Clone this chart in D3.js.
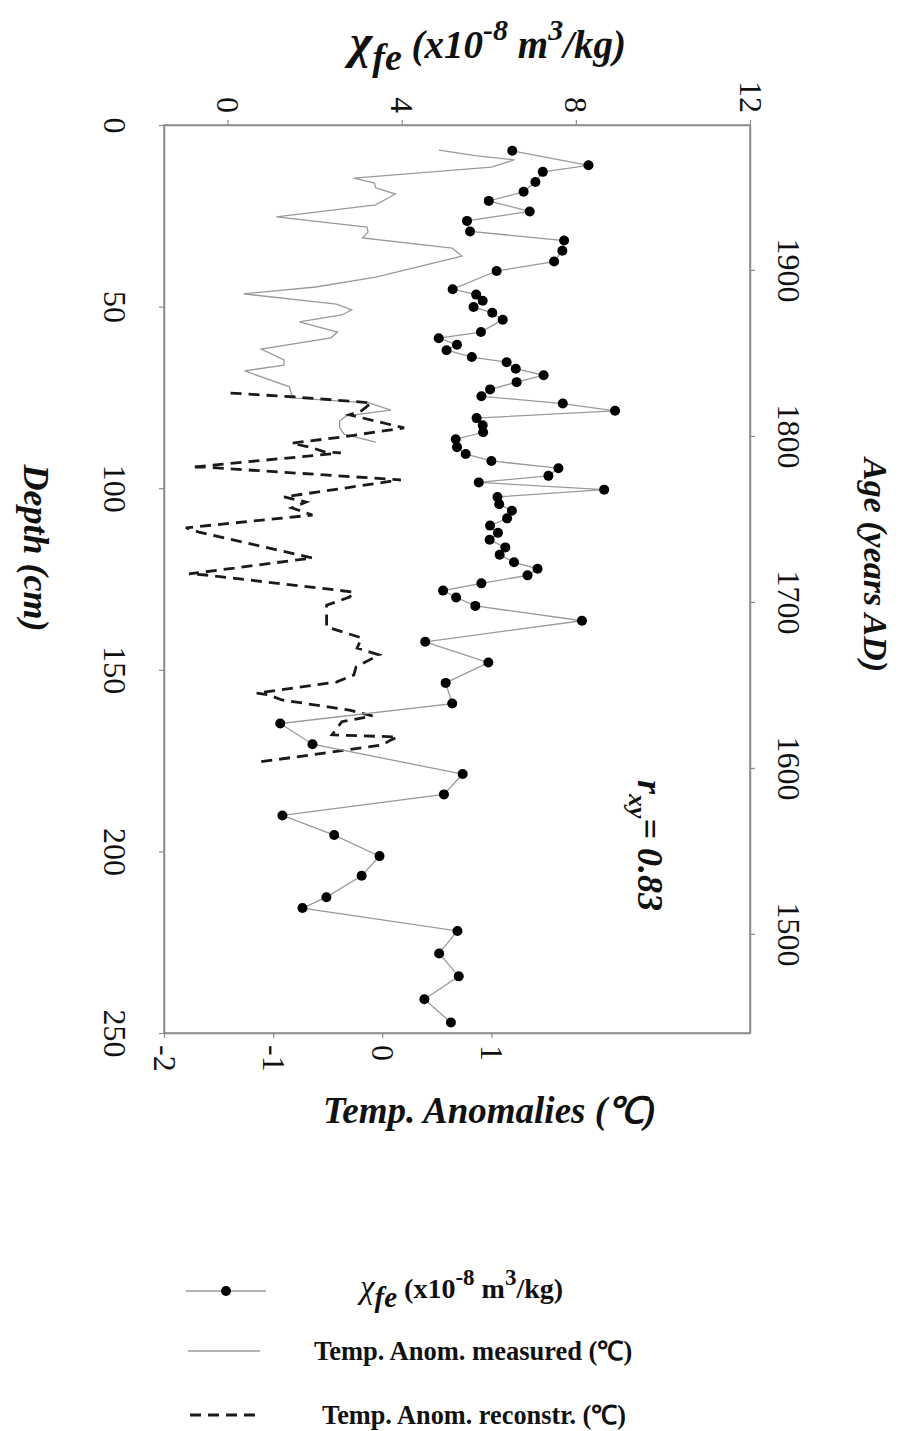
<!DOCTYPE html>
<html>
<head>
<meta charset="utf-8">
<script src="https://cdn.jsdelivr.net/npm/d3@7"></script>
<style>
  html, body { margin: 0; padding: 0; background: #fff; }
  svg { display: block; }
  text { font-family: "Liberation Serif", "Times New Roman", serif; fill: #111; }
</style>
</head>
<body>
<svg id="chart" width="902" height="1431"></svg>
<script>
// ---------------- DATA ----------------
// chi_fe series (x10^-8 m3/kg) vs depth (cm)
const chiDepth = [7.1, 11.1, 12.9, 15.7, 18.4, 20.9, 23.8, 26.4, 29.3, 31.8,
  34.6, 37.6, 40.2, 45.2, 46.7, 48.4, 50.1, 51.7, 53.6, 57.0,
  58.7, 60.5, 62.0, 63.9, 65.3, 67.1, 68.9, 70.8, 72.8, 74.7,
  76.7, 78.7, 80.7, 82.7, 84.6, 86.5, 88.7, 90.6, 92.5, 94.5,
  96.6, 98.4, 100.4, 102.4, 104.4, 106.2, 108.3, 110.3, 112.3, 114.2,
  116.3, 118.3, 120.4, 122.2, 124.0, 126.2, 128.2, 130.1, 132.4, 136.5,
  142.3, 148.0, 153.6, 159.3, 164.8, 170.5, 178.7, 184.3, 190.1, 195.5,
  201.3, 206.7, 212.6, 215.6, 221.9, 228.1, 234.4, 240.7, 247.1];
const chiValues = [6.54, 8.29, 7.24, 7.07, 6.80, 6.00, 6.94, 5.50, 5.57, 7.73,
  7.69, 7.50, 6.18, 5.17, 5.71, 5.86, 5.65, 6.08, 6.32, 5.82,
  4.85, 5.27, 5.03, 5.61, 6.41, 6.62, 7.26, 6.64, 6.03, 5.83,
  7.70, 8.90, 5.72, 5.86, 5.87, 5.24, 5.27, 5.47, 6.06, 7.60,
  7.37, 5.77, 8.65, 6.20, 6.24, 6.53, 6.42, 6.03, 6.21, 6.02,
  6.38, 6.25, 6.58, 7.12, 6.89, 5.83, 4.95, 5.25, 5.69, 8.14,
  4.54, 5.99, 5.01, 5.16, 1.21, 1.95, 5.40, 4.97, 1.26, 2.45,
  3.49, 3.08, 2.27, 1.72, 5.28, 4.86, 5.31, 4.52, 5.13];

// Measured temperature anomalies (deg C), positioned on the depth axis
const measDepth = [6.9, 8.5, 9.6, 11.6, 14.6, 16.0, 17.3, 19.0, 22.0, 25.3,
  28.1, 29.5, 31.1, 33.9, 36.1, 41.9, 44.6, 46.5, 49.3, 50.9,
  52.3, 54.2, 57.0, 58.6, 61.7, 64.7, 66.1, 67.7, 72.1, 74.3,
  75.2, 76.5, 78.5, 80.1, 81.5, 83.4, 85.1, 87.3];
const measTemp = [0.52, 0.87, 1.21, 1.00, -0.26, -0.07, -0.06, 0.12, -0.06, -0.97,
  -0.14, -0.13, -0.18, 0.64, 0.73, -0.06, -0.61, -1.27, -0.42, -0.28,
  -0.37, -0.76, -0.41, -0.47, -1.11, -0.90, -0.90, -1.26, -0.85, -0.83,
  -0.79, -0.12, 0.08, -0.33, -0.39, -0.39, -0.35, -0.06];

// Reconstructed temperature anomalies (deg C), positioned on the depth axis
const recDepth = [73.8, 74.9, 76.5, 78.7, 79.8, 83.4, 85.9, 87.6, 88.9, 90.0,
  90.3, 94.2, 94.2, 97.7, 102.4, 103.8, 105.4, 107.4, 110.9, 112.1,
  119.2, 123.6, 123.9, 128.6, 130.0, 132.2, 138.2, 141.2, 144.0, 145.9,
  149.2, 151.4, 153.4, 156.4, 156.9, 158.3, 161.1, 162.7, 164.3, 167.9,
  168.5, 169.3, 170.7, 175.4];
const recTemp = [-1.39, -0.79, -0.10, -0.19, -0.30, 0.20, -0.37, -0.83, -0.64, -0.53,
  -0.38, -1.75, -1.63, 0.17, -0.90, -0.70, -0.83, -0.64, -1.80, -1.68,
  -0.64, -1.77, -1.62, -0.26, -0.30, -0.51, -0.51, -0.19, -0.23, -0.03,
  -0.24, -0.26, -0.42, -1.15, -1.04, -0.92, -0.30, -0.09, -0.37, -0.46,
  0.14, 0.08, 0.00, -1.13];

// Tick values
const depthTicks = [0, 50, 100, 150, 200, 250];
const chiTicks = [0, 4, 8, 12];
const tempTicks = [-2, -1, 0, 1];
const ageTicks = [1900, 1800, 1700, 1600, 1500];

// ---------------- LAYOUT ----------------
const plot = { left: 164, right: 750, top: 125, bottom: 1033 };
const svg = d3.select("#chart");
svg.append("rect").attr("width", 902).attr("height", 1431).attr("fill", "#fff");

const yDepth = d3.scaleLinear().domain([0, 250]).range([plot.top, plot.bottom]);
const yAge = d3.scaleLinear().domain([1987.3, 1440.3]).range([plot.top, plot.bottom]);
const xChi = d3.scaleLinear().domain([-1.46, 12]).range([plot.left, plot.right]);
const xTemp = d3.scaleLinear().domain([-2, 3.37]).range([plot.left, plot.right]);

const axisColor = "#8c8c8c";
const tickFont = 32;
const plainFmt = d => String(d);

// frame
svg.append("rect")
  .attr("x", plot.left).attr("y", plot.top)
  .attr("width", plot.right - plot.left).attr("height", plot.bottom - plot.top)
  .attr("fill", "none").attr("stroke", axisColor).attr("stroke-width", 1.5);

function styleAxis(g) {
  g.attr("font-family", null).attr("font-size", null);
  g.select(".domain").attr("stroke", axisColor).attr("stroke-width", 1.5);
  g.selectAll(".tick line").attr("stroke", axisColor).attr("stroke-width", 1.2);
  g.selectAll(".tick text")
    .style("font-family", "'Liberation Serif', 'Times New Roman', serif")
    .style("font-size", tickFont + "px").style("fill", "#111");
}

// left axis: depth
const gL = svg.append("g").attr("transform", `translate(${plot.left},0)`)
  .call(d3.axisLeft(yDepth).tickValues(depthTicks).tickFormat(plainFmt).tickSize(5).tickSizeOuter(0));
styleAxis(gL);
gL.selectAll(".tick text")
  .attr("x", null).attr("dy", null)
  .attr("text-anchor", "middle")
  .attr("transform", "translate(-60,0) rotate(90)");

// right axis: age
const gR = svg.append("g").attr("transform", `translate(${plot.right},0)`)
  .call(d3.axisRight(yAge).tickValues(ageTicks).tickFormat(plainFmt).tickSize(5).tickSizeOuter(0));
styleAxis(gR);
gR.selectAll(".tick text")
  .attr("x", null).attr("dy", null)
  .attr("text-anchor", "middle")
  .attr("transform", "translate(28,0) rotate(90)");

// top axis: chi
const gT = svg.append("g").attr("transform", `translate(0,${plot.top})`)
  .call(d3.axisTop(xChi).tickValues(chiTicks).tickFormat(plainFmt).tickSize(5).tickSizeOuter(0));
styleAxis(gT);
gT.selectAll(".tick text")
  .attr("y", null).attr("dy", null)
  .attr("text-anchor", "end")
  .attr("transform", "translate(-11,-12) rotate(90)");

// bottom axis: temperature
const gB = svg.append("g").attr("transform", `translate(0,${plot.bottom})`)
  .call(d3.axisBottom(xTemp).tickValues(tempTicks).tickFormat(plainFmt).tickSize(5).tickSizeOuter(0));
styleAxis(gB);
gB.selectAll(".tick text")
  .attr("y", null).attr("dy", null)
  .attr("text-anchor", "start")
  .attr("transform", "translate(-11,12) rotate(90)");

// ---------------- SERIES ----------------
const measured = measDepth.map((d, i) => ({ d, v: measTemp[i] }));
const recon = recDepth.map((d, i) => ({ d, v: recTemp[i] }));
const chi = chiDepth.map((d, i) => ({ d, v: chiValues[i] }));

svg.append("path").datum(measured)
  .attr("fill", "none").attr("stroke", "#9a9a9a").attr("stroke-width", 1.3)
  .attr("d", d3.line().x(p => xTemp(p.v)).y(p => yDepth(p.d)));

svg.append("path").datum(recon)
  .attr("fill", "none").attr("stroke", "#1a1a1a").attr("stroke-width", 2.8)
  .attr("stroke-dasharray", "11,7")
  .attr("d", d3.line().x(p => xTemp(p.v)).y(p => yDepth(p.d)));

svg.append("path").datum(chi)
  .attr("fill", "none").attr("stroke", "#9a9a9a").attr("stroke-width", 1.3)
  .attr("d", d3.line().x(p => xChi(p.v)).y(p => yDepth(p.d)));

svg.append("g").selectAll("circle").data(chi).join("circle")
  .attr("cx", p => xChi(p.v)).attr("cy", p => yDepth(p.d))
  .attr("r", 5).attr("fill", "#000");

// ---------------- TITLES ----------------
// top title
const tt = svg.append("text").attr("x", 350).attr("y", 58)
  .attr("font-weight", "bold").attr("font-style", "italic").attr("font-size", 39);
tt.append("tspan").attr("font-size", 48).text("χ");
tt.append("tspan").attr("font-size", 38).attr("dy", 12).text("fe");
tt.append("tspan").attr("font-size", 39).attr("dy", -12).text(" (x10");
tt.append("tspan").attr("font-size", 30).attr("dy", -18).text("-8");
tt.append("tspan").attr("font-size", 39).attr("dy", 18).text(" m");
tt.append("tspan").attr("font-size", 30).attr("dy", -18).text("3");
tt.append("tspan").attr("font-size", 39).attr("dy", 18).text("/kg)");

// bottom title
svg.append("text").attr("x", 323).attr("y", 1123)
  .attr("font-weight", "bold").attr("font-style", "italic").attr("font-size", 37)
  .text("Temp. Anomalies (℃)");

// left title
svg.append("text")
  .attr("transform", "translate(24,548) rotate(90)")
  .attr("text-anchor", "middle")
  .attr("font-weight", "bold").attr("font-style", "italic").attr("font-size", 36)
  .text("Depth (cm)");

// right title
svg.append("text")
  .attr("transform", "translate(864,565) rotate(90)")
  .attr("text-anchor", "middle")
  .attr("font-weight", "bold").attr("font-style", "italic").attr("font-size", 34)
  .text("Age (years AD)");

// r_xy annotation
const rt = svg.append("text")
  .attr("transform", "translate(638,780) rotate(90)")
  .attr("font-weight", "bold").attr("font-style", "italic").attr("font-size", 36);
rt.append("tspan").text("r");
rt.append("tspan").attr("font-size", 26).attr("dy", 9).text("xy");
rt.append("tspan").attr("dy", -9).text("= 0.83");

// ---------------- LEGEND ----------------
const lg = svg.append("g");
lg.append("line").attr("x1", 186).attr("x2", 266).attr("y1", 1291).attr("y2", 1291)
  .attr("stroke", "#9a9a9a").attr("stroke-width", 1.3);
lg.append("circle").attr("cx", 226).attr("cy", 1291).attr("r", 5).attr("fill", "#000");
const l1 = lg.append("text").attr("x", 360).attr("y", 1298)
  .attr("font-weight", "bold").attr("font-size", 28);
l1.append("tspan").attr("font-style", "italic").attr("font-weight", "normal").attr("font-size", 33).text("χ");
l1.append("tspan").attr("font-style", "italic").attr("font-size", 29).attr("dy", 9).text("fe");
l1.append("tspan").attr("dy", -9).text(" (x10");
l1.append("tspan").attr("font-size", 23).attr("dy", -13).text("-8");
l1.append("tspan").attr("dy", 13).text(" m");
l1.append("tspan").attr("font-size", 23).attr("dy", -13).text("3");
l1.append("tspan").attr("dy", 13).text("/kg)");

lg.append("line").attr("x1", 188).attr("x2", 260).attr("y1", 1351).attr("y2", 1351)
  .attr("stroke", "#9a9a9a").attr("stroke-width", 1.3);
lg.append("text").attr("x", 314).attr("y", 1360)
  .attr("font-weight", "bold").attr("font-size", 26.5)
  .text("Temp. Anom. measured (℃)");

lg.append("line").attr("x1", 190).attr("x2", 262).attr("y1", 1415).attr("y2", 1415)
  .attr("stroke", "#1a1a1a").attr("stroke-width", 2.8).attr("stroke-dasharray", "11,7");
lg.append("text").attr("x", 322).attr("y", 1424)
  .attr("font-weight", "bold").attr("font-size", 26.3)
  .text("Temp. Anom. reconstr. (℃)");
</script>
</body>
</html>
